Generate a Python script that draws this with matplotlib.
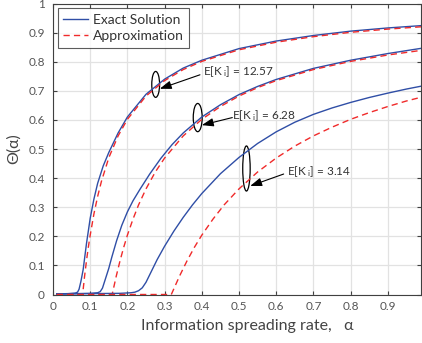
import matplotlib
matplotlib.use("Agg")
import matplotlib.pyplot as plt
from matplotlib.patches import Ellipse

plt.rcParams['font.family'] = ['Lato', 'DejaVu Sans']
plt.rcParams['mathtext.fontset'] = 'custom'
plt.rcParams['mathtext.rm'] = 'Lato'
plt.rcParams['mathtext.it'] = 'Lato'

# ---- data ----
# E[K_i] = 12.57
a_ex_1257 = [0.01, 0.04, 0.06, 0.066, 0.070, 0.075, 0.081, 0.09, 0.10, 0.11, 0.12, 0.135, 0.15,
             0.175, 0.20, 0.25, 0.30, 0.35, 0.40, 0.50, 0.60, 0.70, 0.80, 0.90, 0.99]
t_ex_1257 = [0.002, 0.003, 0.005, 0.008, 0.018, 0.045, 0.085, 0.175, 0.262, 0.328, 0.382, 0.442, 0.488,
             0.555, 0.610, 0.688, 0.740, 0.778, 0.805, 0.845, 0.871, 0.890, 0.905, 0.916, 0.924]
a_ap_1257 = [0.01, 0.0796, 0.085, 0.09, 0.095, 0.10, 0.11, 0.12, 0.13, 0.15, 0.175, 0.20, 0.25,
             0.30, 0.35, 0.40, 0.50, 0.60, 0.70, 0.80, 0.90, 0.99]
t_ap_1257 = [0.0, 0.0, 0.064, 0.116, 0.163, 0.204, 0.277, 0.337, 0.388, 0.470, 0.545, 0.602, 0.682,
             0.735, 0.773, 0.801, 0.841, 0.867, 0.886, 0.901, 0.912, 0.920]

# E[K_i] = 6.28
a_ex_628 = [0.01, 0.06, 0.10, 0.12, 0.127, 0.133, 0.14, 0.15, 0.158, 0.171, 0.185, 0.20, 0.215, 0.234,
            0.26, 0.29, 0.32, 0.35, 0.40, 0.45, 0.50, 0.55, 0.60, 0.70, 0.80, 0.90, 0.99]
t_ex_628 = [0.002, 0.003, 0.004, 0.006, 0.010, 0.022, 0.050, 0.090, 0.128, 0.185, 0.238, 0.284, 0.322, 0.362,
            0.414, 0.468, 0.515, 0.555, 0.610, 0.652, 0.687, 0.715, 0.739, 0.777, 0.805, 0.828, 0.846]
a_ap_628 = [0.01, 0.159, 0.17, 0.18, 0.19, 0.20, 0.215, 0.23, 0.25, 0.275, 0.30, 0.35, 0.40,
            0.45, 0.50, 0.55, 0.60, 0.70, 0.80, 0.90, 0.99]
t_ap_628 = [0.0, 0.0, 0.063, 0.115, 0.162, 0.204, 0.259, 0.308, 0.363, 0.421, 0.469, 0.545, 0.602,
            0.646, 0.682, 0.711, 0.735, 0.773, 0.801, 0.823, 0.839]

# E[K_i] = 3.14
a_ex_314 = [0.01, 0.10, 0.18, 0.21, 0.22, 0.23, 0.24, 0.25, 0.26, 0.28, 0.30, 0.325, 0.35, 0.375,
            0.40, 0.45, 0.50, 0.55, 0.60, 0.65, 0.70, 0.75, 0.80, 0.85, 0.90, 0.95, 0.99]
t_ex_314 = [0.002, 0.003, 0.004, 0.006, 0.008, 0.013, 0.023, 0.042, 0.068, 0.120, 0.166, 0.218, 0.265, 0.308,
            0.347, 0.415, 0.471, 0.519, 0.559, 0.592, 0.619, 0.641, 0.660, 0.677, 0.692, 0.706, 0.716]
a_ap_314 = [0.01, 0.318, 0.34, 0.36, 0.38, 0.40, 0.43, 0.46, 0.50, 0.55, 0.60, 0.65, 0.70,
            0.75, 0.80, 0.85, 0.90, 0.95, 0.99]
t_ap_314 = [0.0, 0.0, 0.063, 0.115, 0.162, 0.204, 0.259, 0.308, 0.363, 0.421, 0.469, 0.510, 0.545,
            0.575, 0.602, 0.625, 0.646, 0.665, 0.678]

labels_k = ['12.57', '6.28', '3.14']
x_ticks = [0, 0.1, 0.2, 0.3, 0.4, 0.5, 0.6, 0.7, 0.8, 0.9]
y_ticks = [0, 0.1, 0.2, 0.3, 0.4, 0.5, 0.6, 0.7, 0.8, 0.9, 1.0]
x_ticklabels = ['0', '0.1', '0.2', '0.3', '0.4', '0.5', '0.6', '0.7', '0.8', '0.9']
y_ticklabels = ['0', '0.1', '0.2', '0.3', '0.4', '0.5', '0.6', '0.7', '0.8', '0.9', '1']

BLUE = '#2f4ea6'
RED = '#f02a2a'
AX = '#404040'

fig = plt.figure(figsize=(4.22, 3.43), dpi=100)
ax = fig.add_axes([53/422, 1-294.5/343, (421.3-53)/422, (294.5-3.5)/343])

ax.grid(True, color='#e2e2e2', linewidth=0.9)
ax.set_axisbelow(True)

ex_sets = [(a_ex_1257, t_ex_1257), (a_ex_628, t_ex_628), (a_ex_314, t_ex_314)]
ap_sets = [(a_ap_1257, t_ap_1257), (a_ap_628, t_ap_628), (a_ap_314, t_ap_314)]
for i, ((ax_, tx), (aa, ta)) in enumerate(zip(ex_sets, ap_sets)):
    ax.plot(ax_, tx, color=BLUE, lw=1.0, label='Exact Solution' if i == 0 else None)
    ax.plot(aa, ta, color=RED, lw=1.0, dashes=(4.5, 3), label='Approximation' if i == 0 else None)

ax.set_xlim(0, 0.99)
ax.set_ylim(0, 1)
ax.set_xticks(x_ticks)
ax.set_xticklabels(x_ticklabels)
ax.set_yticks(y_ticks)
ax.set_yticklabels(y_ticklabels)
ax.tick_params(direction='in', length=3, width=0.8, colors=AX, labelcolor='#555555',
               labelsize=8.5, top=True, right=True)
ax.tick_params(axis='x', pad=5)
ax.tick_params(axis='y', pad=6)
for s in ax.spines.values():
    s.set_color(AX)
    s.set_linewidth(0.8)

ax.set_xlabel('Information spreading rate,   α', fontsize=11.5, color='#444444')
ax.xaxis.set_label_coords(0.527, -0.085)
ax.set_ylabel('Θ(α)', fontsize=11.5, color='#444444', labelpad=5)

leg = ax.legend(loc='upper left', fontsize=10, frameon=True, fancybox=False,
                edgecolor='#333333', borderpad=0.4, handlelength=1.8, handletextpad=0.3,
                labelspacing=0.32, borderaxespad=0.35)
leg.get_frame().set_linewidth(0.8)
for t in leg.get_texts():
    t.set_color('#333333')

# annotations: ellipses + arrows
ell = [(0.276, 0.722, 0.021, 0.089), (0.389, 0.608, 0.024, 0.097), (0.520, 0.433, 0.020, 0.155)]
for (cx, cy, w, h) in ell:
    ax.add_patch(Ellipse((cx, cy), w, h, fill=False, edgecolor='black', lw=0.9))

ann = [((0.287, 0.707), (0.395, 0.755)),
       ((0.400, 0.582), (0.482, 0.608)),
       ((0.530, 0.373), (0.620, 0.414))]
for (hx, hy), (tx, ty) in ann:
    ax.annotate('', xy=(hx, hy), xytext=(tx, ty),
                arrowprops=dict(arrowstyle='-|>,head_length=0.7,head_width=0.25',
                                color='black', lw=0.8, shrinkA=0, shrinkB=0))
texts = [(0.402, 0.765), (0.480, 0.615), (0.630, 0.421)]
for (tx, ty), k in zip(texts, labels_k):
    ax.text(tx, ty, r'E[K$_{\ \mathregular{i}}$] = ' + k, fontsize=8.5, color='#333333',
            ha='left', va='center')

fig.savefig('out.png', dpi=100)
